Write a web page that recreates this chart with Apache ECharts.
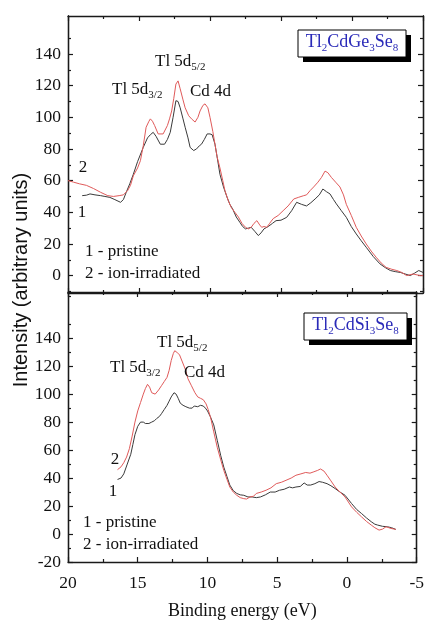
<!DOCTYPE html>
<html><head><meta charset="utf-8">
<script src="https://cdn.jsdelivr.net/npm/echarts@6/dist/echarts.min.js"></script>
<style>html,body{margin:0;padding:0;background:#fff}#c{width:427px;height:621px}</style>
</head><body><div id="c"></div>
<script>
// ---------- data: [binding energy (eV), intensity] ----------
const topPristine = [[19.0,50.5],[18.7,50.8],[18.45,51.6],[18.1,51],[17.7,50.5],[17.4,50],[17.05,49.4],[16.7,48],[16.3,46.3],[16.1,48],[15.9,52.6],[15.65,58],[15.4,64],[15.1,72],[14.7,81],[14.4,87],[14.2,89],[14.0,90.5],[13.8,88],[13.5,83],[13.2,83],[13.0,86],[12.8,90.5],[12.6,100],[12.4,110.5],[12.25,110],[12.1,106],[11.9,99],[11.75,93.7],[11.55,87],[11.4,81],[11.15,79],[10.95,80],[10.75,82],[10.6,83],[10.4,86],[10.2,89.5],[10.0,89.5],[9.85,89],[9.65,83],[9.5,75],[9.3,64],[9.05,56],[8.8,49.5],[8.6,45],[8.4,42],[8.15,37],[7.9,33.7],[7.7,31],[7.5,29.5],[7.3,30],[7.1,30.5],[6.85,28],[6.6,25.3],[6.4,27],[6.2,29.5],[5.9,31],[5.6,33],[5.35,34.7],[5.0,35],[4.6,36.8],[4.25,41],[3.9,46.3],[3.55,45],[3.2,44],[2.9,46],[2.6,48.4],[2.3,51],[2.05,54.7],[1.8,53],[1.55,51.6],[1.3,48],[1.1,45.3],[0.75,41],[0.4,36.8],[0.05,31],[-0.3,26.3],[-0.65,22],[-1.0,17.9],[-1.5,12],[-1.97,7.4],[-2.35,5],[-2.7,3.2],[-3.05,2.5],[-3.4,2],[-3.75,1],[-4.1,0],[-4.4,1.5],[-4.7,3.2],[-5,2]];
const topIrradiated = [[20,60],[19.6,59],[19.2,58],[18.7,57],[18.2,55],[17.7,52.6],[17.2,50.5],[16.8,50],[16.4,50.5],[16.1,51],[15.8,53.7],[15.6,57],[15.4,63],[15.1,68],[14.9,72.6],[14.7,82],[14.5,93.7],[14.3,97.5],[14.2,99],[14.05,97.5],[13.9,94.8],[13.65,89.5],[13.3,89.5],[13.0,94.8],[12.85,99],[12.7,104],[12.55,112],[12.4,121],[12.25,123],[12.1,118],[11.9,111],[11.75,106],[11.5,101],[11.3,99],[11.05,97],[10.85,100],[10.7,104],[10.5,107.5],[10.35,108.5],[10.15,106],[10.0,100],[9.8,91],[9.65,83],[9.5,75],[9.3,68],[9.1,60],[8.95,53.7],[8.7,47],[8.5,43],[8.25,40],[8.0,37],[7.75,33],[7.5,30.5],[7.3,29.5],[7.1,30.5],[6.9,33],[6.7,34.7],[6.5,32],[6.36,30.5],[6.2,31],[6.0,30.5],[5.8,33],[5.55,36],[5.2,38],[4.85,41],[4.5,44],[4.1,48.4],[3.75,49.5],[3.4,50.5],[3.2,51],[2.95,53.7],[2.7,56],[2.4,59],[2.15,62],[1.9,66],[1.7,65],[1.45,62],[1.15,59],[0.85,56],[0.6,51],[0.4,45],[0.05,38],[-0.3,30.5],[-0.65,25],[-1.0,20],[-1.35,15.5],[-1.7,11.6],[-2.05,8],[-2.4,5.2],[-2.8,4],[-3.15,3.2],[-3.5,2],[-3.85,0],[-4.3,1],[-4.8,0],[-5,0]];
const bottomPristine = [[16.45,39],[16.2,40],[16.0,43],[15.75,50],[15.5,57],[15.35,64],[15.2,71],[15.0,77],[14.8,80],[14.6,80],[14.45,79],[14.2,79],[14.0,80],[13.8,81],[13.65,82.5],[13.45,84],[13.3,86],[13.1,89],[12.9,92],[12.75,95],[12.6,98],[12.4,101],[12.25,100],[12.1,97],[11.95,93.5],[11.75,92],[11.55,91],[11.3,90],[11.1,90],[10.95,91.5],[10.7,91],[10.5,92],[10.3,91.5],[10.15,90],[10.0,88],[9.8,84],[9.55,78],[9.3,67],[9.05,56],[8.83,47.8],[8.6,41],[8.4,35],[8.15,31],[7.9,29],[7.65,28],[7.4,27.7],[7.1,26.5],[6.8,26.5],[6.5,26],[6.2,26.5],[5.85,28],[5.5,30],[5.15,30],[4.83,31.3],[4.5,32],[4.13,33.6],[3.9,33],[3.66,33.6],[3.35,34],[3.07,36.5],[2.85,35],[2.6,35],[2.3,36],[2.0,37.5],[1.75,37],[1.43,36],[1.15,34.5],[0.85,32.5],[0.5,30],[0.14,27.7],[-0.33,21.8],[-0.7,17.5],[-1.04,14.7],[-1.4,11.5],[-1.74,8.8],[-2.0,7],[-2.2,6.4],[-2.55,5.5],[-2.9,5.2],[-3.2,4.5],[-3.5,3.3]];
const bottomIrradiated = [[16.45,46],[16.2,48],[16.0,51],[15.8,55],[15.6,61],[15.4,70],[15.2,80],[15.0,88],[14.8,94],[14.6,100],[14.45,104],[14.3,107],[14.15,105],[14.0,101],[13.75,100],[13.5,103],[13.3,106],[13.1,109],[12.9,112],[12.75,117],[12.6,124],[12.45,129],[12.35,131],[12.2,130],[12.0,128],[11.8,123],[11.6,118],[11.4,111],[11.15,106],[10.9,101],[10.7,98],[10.5,97],[10.3,96],[10.1,93],[9.95,89],[9.77,83],[9.55,73],[9.3,62],[9.05,53],[8.83,45.5],[8.6,39],[8.4,33.6],[8.15,30],[7.9,27.7],[7.65,26],[7.4,25.3],[7.2,25],[6.95,26.5],[6.7,27],[6.5,29],[6.15,30],[5.8,31.3],[5.45,33],[5.07,36],[4.7,37],[4.37,38.4],[4.0,40],[3.66,42],[3.3,43],[2.96,44],[2.65,43.5],[2.37,44.5],[2.1,45.5],[1.9,46.5],[1.65,45],[1.43,42],[1.15,38],[0.85,33.6],[0.5,30],[0.14,26.5],[-0.33,19.4],[-0.7,15.5],[-1.04,12.3],[-1.4,9],[-1.74,6.4],[-2.0,4.5],[-2.3,2.8],[-2.55,3.5],[-2.8,5.2],[-3.15,4],[-3.5,3.3]];

const xTickValues = [20, 15, 10, 5, 0, -5];
const yTicksTop = [0, 20, 40, 60, 80, 100, 120, 140];
const yMinorTop = [-10, 10, 30, 50, 70, 90, 110, 130, 150];
const yTicksBottom = [-20, 0, 20, 40, 60, 80, 100, 120, 140];
const yMinorBottom = [-10, 10, 30, 50, 70, 90, 110, 130, 150, 170];

const SERIF = '"Liberation Serif", "Times New Roman", serif';
const INK = '#111';
const AXC = '#1a1a1a';

const chart = echarts.init(document.getElementById('c'), null, {renderer: 'canvas'});

function xAx(grid, pos, labels, name) {
  return {
    type: 'value', gridIndex: grid, position: pos, inverse: true,
    min: -5, max: 20, interval: 5,
    axisLine: {show: true, onZero: false, lineStyle: {color: AXC, width: 1.3}},
    axisTick: {show: true, inside: true, length: 5, lineStyle: {color: AXC, width: 1.2}},
    minorTick: {show: true, splitNumber: 2, length: 3, lineStyle: {color: AXC, width: 1.2}},
    axisLabel: {show: labels, color: INK, fontFamily: SERIF, fontSize: 17.5, margin: 12},
    splitLine: {show: false}, minorSplitLine: {show: false},
    name: name || '', nameLocation: 'middle', nameGap: 40,
    nameTextStyle: {color: INK, fontFamily: SERIF, fontSize: 18}
  };
}
function yAx(grid, pos, min, max, vals, len, labels) {
  return {
    type: 'value', gridIndex: grid, position: pos, min: min, max: max,
    axisLine: {show: true, onZero: false, lineStyle: {color: AXC, width: 1.3}},
    axisTick: {show: true, inside: true, length: len, customValues: vals, lineStyle: {color: AXC, width: 1.2}},
    axisLabel: {show: labels, customValues: vals, color: INK, fontFamily: SERIF, fontSize: 17.5, margin: 7},
    splitLine: {show: false}
  };
}
const pristineColor = '#3a3a3a';
const irrColor = '#e05a5a';
function ser(xi, yi, data, color) {
  return {type: 'line', xAxisIndex: xi, yAxisIndex: yi, data: data, showSymbol: false,
    lineStyle: {color: color, width: 1}, itemStyle: {color: color}, animation: false, z: 3};
}
function sub(x, y, main, s) {
  return {type: 'text', x: x, y: y, z: 10, style: {
    text: '{a|' + main + '}{s|' + s + '}', verticalAlign: 'middle',
    rich: {
      a: {fontFamily: SERIF, fontSize: 17, fill: INK, verticalAlign: 'middle'},
      s: {fontFamily: SERIF, fontSize: 11, fill: INK, padding: [10, 0, 0, 0], verticalAlign: 'middle'}
    }}};
}
function txt(x, y, t, align, size) {
  return {type: 'text', x: x, y: y, z: 10, style: {text: t, fontFamily: SERIF, fontSize: size || 17,
    fill: INK, align: align || 'left', verticalAlign: 'middle'}};
}
function formula(x, y, w, h, parts) {
  let rich = '';
  parts.forEach(p => { rich += '{' + (p[1] ? 's' : 'a') + '|' + p[0] + '}'; });
  return [
    {type: 'rect', z: 8, shape: {x: x + 5, y: y + 5, width: w, height: h}, style: {fill: '#000'}},
    {type: 'rect', z: 9, shape: {x: x, y: y, width: w, height: h}, style: {fill: '#fff', stroke: '#000', lineWidth: 1}},
    {type: 'text', z: 10, x: x + w / 2, y: y + h / 2 - 1, style: {
      text: rich, align: 'center', verticalAlign: 'middle',
      rich: {
        a: {fontFamily: SERIF, fontSize: 18, fill: '#2a2ab8', verticalAlign: 'middle'},
        s: {fontFamily: SERIF, fontSize: 11, fill: '#2a2ab8', padding: [11, 0, 0, 0], verticalAlign: 'middle'}
      }}}
  ];
}

const option = {
  backgroundColor: '#fff',
  animation: false,
  grid: [
    {left: 68, top: 16, width: 355, height: 277},
    {left: 68, top: 292, width: 355, height: 272}
  ],
  xAxis: [
    xAx(0, 'bottom', false), xAx(0, 'top', false),
    xAx(1, 'bottom', true, 'Binding energy (eV)'), xAx(1, 'top', false)
  ],
  yAxis: [
    yAx(0, 'left', -11, 164, yTicksTop, 5, true),
    yAx(0, 'left', -11, 164, yMinorTop, 3, false),
    yAx(0, 'right', -11, 164, yTicksTop, 5, false),
    yAx(0, 'right', -11, 164, yMinorTop, 3, false),
    yAx(1, 'left', -20, 173, yTicksBottom, 5, true),
    yAx(1, 'left', -20, 173, yMinorBottom, 3, false),
    yAx(1, 'right', -20, 173, yTicksBottom, 5, false),
    yAx(1, 'right', -20, 173, yMinorBottom, 3, false)
  ],
  series: [
    ser(0, 0, topPristine, pristineColor),
    ser(0, 0, topIrradiated, irrColor),
    ser(2, 4, bottomPristine, pristineColor),
    ser(2, 4, bottomIrradiated, irrColor)
  ],
  graphic: [
    {type: 'text', x: 21, y: 280, rotation: Math.PI / 2, z: 10, style: {
      text: 'Intensity (arbitrary units)', fontFamily: '"Liberation Sans", Arial, sans-serif', fontSize: 20,
      fill: INK, align: 'center', verticalAlign: 'middle'}},
    sub(155, 62, 'Tl 5d', '5/2'),
    sub(112, 90, 'Tl 5d', '3/2'),
    txt(190, 92, 'Cd 4d'),
    txt(83, 168, '2', 'center'),
    txt(82, 213, '1', 'center'),
    txt(85, 252, '1 - pristine'),
    txt(85, 274, '2 - ion-irradiated'),
    sub(157, 343, 'Tl 5d', '5/2'),
    sub(110, 368, 'Tl 5d', '3/2'),
    txt(184, 373, 'Cd 4d'),
    txt(115, 460, '2', 'center'),
    txt(113, 492, '1', 'center'),
    txt(83, 523, '1 - pristine'),
    txt(83, 545, '2 - ion-irradiated'),
    ...formula(298, 30, 108, 27, [['Tl'], ['2', 1], ['CdGe'], ['3', 1], ['Se'], ['8', 1]]),
    ...formula(304, 313, 103, 27, [['Tl'], ['2', 1], ['CdSi'], ['3', 1], ['Se'], ['8', 1]])
  ]
};
chart.setOption(option);
</script>
</body></html>
